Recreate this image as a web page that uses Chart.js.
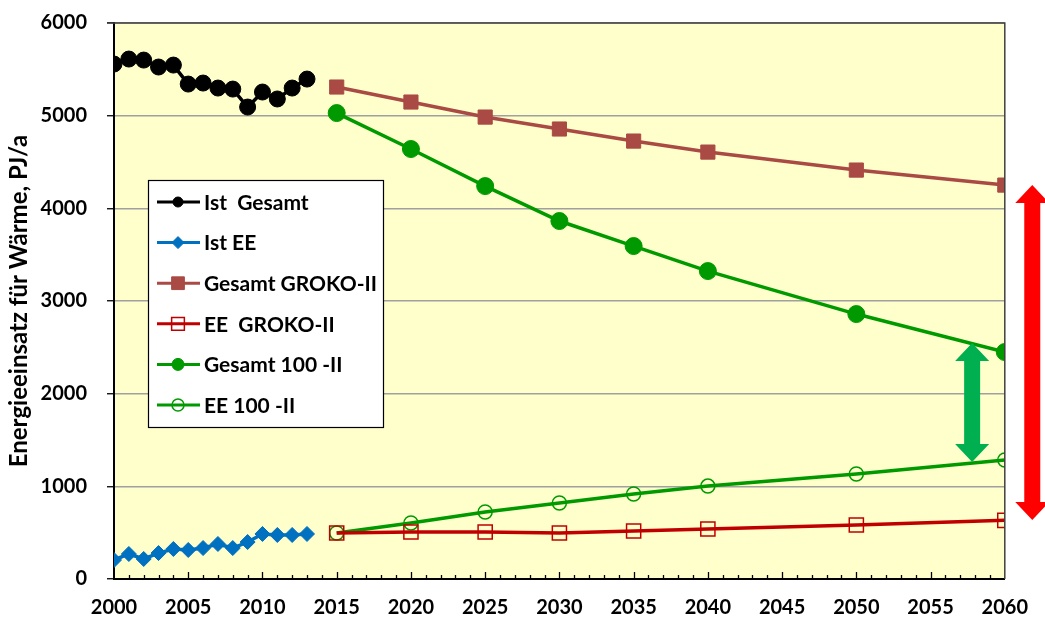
<!DOCTYPE html>
<html>
<head>
<meta charset="utf-8">
<script src="https://cdn.jsdelivr.net/npm/chart.js@4/dist/chart.umd.min.js"></script>
<style>
  html, body { margin: 0; padding: 0; background: #fff; }
  #wrap { width: 1045px; height: 618px; }
</style>
</head>
<body>
<div id="wrap"><canvas id="chart" width="1045" height="618"></canvas></div>
<script>
// Ist-Werte 2000..2013
const istYears   = [2000, 2001, 2002, 2003, 2004, 2005, 2006, 2007, 2008, 2009, 2010, 2011, 2012, 2013];
const istGesamt  = [5557, 5611, 5600, 5525, 5546, 5341, 5352, 5298, 5287, 5093, 5255, 5180, 5298, 5395];
const istEE      = [205, 270, 216, 280, 324, 313, 334, 378, 334, 399, 486, 475, 475, 486];

// Szenarien 2015..2060
const scenYears   = [2015, 2020, 2025, 2030, 2035, 2040, 2050, 2060];
const grokoGesamt = [5309, 5147, 4985, 4856, 4726, 4607, 4413, 4251];
const grokoEE     = [496, 507, 507, 496, 518, 540, 583, 633];
const g100Gesamt  = [5028, 4640, 4240, 3863, 3593, 3323, 2859, 2449];
const g100EE      = [496, 604, 723, 820, 917, 1003, 1133, 1284];

const seriesNames = ["Ist  Gesamt", "Ist EE", "Gesamt GROKO-II", "EE  GROKO-II", "Gesamt 100 -II", "EE 100 -II"];

// Doppelpfeile (Jahr, von, bis)
const greenArrow = { x: 2057.8, from: 2547, to: 1262 };
const redArrow   = { x: 2061.85, from: 4251, to: 637 };

const yTickStep = 1000;
const xLabelStep = 5;

function pts(xs, ys) { return xs.map((x, i) => ({ x: x, y: ys[i] })); }

const GREEN = "#009A00";

Chart.defaults.font.family = "Lato, 'Open Sans', sans-serif";
Chart.defaults.color = "#000";

// Hintergrund + Rahmen + innere Striche + Legende + Pfeile
const decoPlugin = {
  id: "deco",
  beforeDraw(chart) {
    const { ctx, chartArea: a } = chart;
    ctx.save();
    ctx.fillStyle = "#FFFFCC";
    ctx.fillRect(a.left, a.top, a.right - a.left, a.bottom - a.top);
    ctx.restore();
  },
  afterDatasetsDraw(chart) {
    const { ctx, chartArea: a, scales } = chart;
    const xs = scales.x, ys = scales.y;
    ctx.save();
    // Rahmen oben/rechts
    ctx.strokeStyle = "#404040";
    ctx.lineWidth = 1.5;
    ctx.beginPath();
    ctx.moveTo(a.left - 7, a.top);
    ctx.lineTo(a.right, a.top);
    ctx.lineTo(a.right, a.bottom);
    ctx.stroke();

    // kleine Striche innen an der x-Achse
    ctx.strokeStyle = "#000";
    ctx.lineWidth = 1.3;
    for (let yr = 2001; yr < 2060; yr++) {
      const px = Math.round(xs.getPixelForValue(yr)) + 0.5;
      const len = yr % 5 === 0 ? 7 : 4;
      ctx.beginPath();
      ctx.moveTo(px, a.bottom);
      ctx.lineTo(px, a.bottom - len);
      ctx.stroke();
    }

    // Pfeile
    drawDoubleArrow(ctx, xs.getPixelForValue(greenArrow.x), ys.getPixelForValue(greenArrow.from), ys.getPixelForValue(greenArrow.to), "#00B050");
    drawDoubleArrow(ctx, xs.getPixelForValue(redArrow.x), ys.getPixelForValue(redArrow.from), ys.getPixelForValue(redArrow.to), "#FF0000");

    // Legende
    const lx = a.left + 34, ly = a.top + 157, lw = 235, lh = 247;
    ctx.fillStyle = "#fff";
    ctx.fillRect(lx, ly, lw, lh);
    ctx.strokeStyle = "#000";
    ctx.lineWidth = 1.2;
    ctx.strokeRect(lx + 0.5, ly + 0.5, lw, lh);
    ctx.font = "bold 21px Lato, 'Open Sans', sans-serif";
    ctx.textBaseline = "middle";
    chart.data.datasets.forEach((ds, i) => {
      const cy = ly + 22 + i * 40.6;
      ctx.strokeStyle = ds.borderColor;
      ctx.lineWidth = 3;
      ctx.beginPath();
      ctx.moveTo(lx + 9, cy);
      ctx.lineTo(lx + 52, cy);
      ctx.stroke();
      ctx.fillStyle = ds.pointBackgroundColor;
      ctx.strokeStyle = ds.pointBorderColor;
      ctx.lineWidth = ds.pointBorderWidth;
      Chart.helpers.drawPoint(ctx, { pointStyle: ds.pointStyle, radius: ds.legendRadius, borderWidth: ds.pointBorderWidth }, lx + 30, cy);
      ctx.fillStyle = "#000";
      ctx.fillText(ds.label, lx + 56, cy + 1);
    });
    ctx.restore();
  }
};

function drawDoubleArrow(ctx, x, yTop, yBot, color) {
  const head = 18, hw = 17, sw = 8;
  ctx.save();
  ctx.fillStyle = color;
  ctx.beginPath();
  ctx.moveTo(x, yTop);
  ctx.lineTo(x + hw, yTop + head);
  ctx.lineTo(x + sw, yTop + head);
  ctx.lineTo(x + sw, yBot - head);
  ctx.lineTo(x + hw, yBot - head);
  ctx.lineTo(x, yBot);
  ctx.lineTo(x - hw, yBot - head);
  ctx.lineTo(x - sw, yBot - head);
  ctx.lineTo(x - sw, yTop + head);
  ctx.lineTo(x - hw, yTop + head);
  ctx.closePath();
  ctx.fill();
  ctx.restore();
}

const datasets = [
  { label: seriesNames[0], data: pts(istYears, istGesamt), borderColor: "#000", pointBackgroundColor: "#000", pointBorderColor: "#000",
    pointStyle: "circle", pointRadius: 8, pointBorderWidth: 1, legendRadius: 5 },
  { label: seriesNames[1], data: pts(istYears, istEE), borderColor: "#0070C0", pointBackgroundColor: "#0070C0", pointBorderColor: "#0070C0",
    pointStyle: "rectRot", pointRadius: 7.5, pointBorderWidth: 1, legendRadius: 6 },
  { label: seriesNames[2], data: pts(scenYears, grokoGesamt), borderColor: "#AA4A44", pointBackgroundColor: "#AA4A44", pointBorderColor: "#AA4A44",
    pointStyle: "rect", pointRadius: 10, pointBorderWidth: 1, legendRadius: 9 },
  { label: seriesNames[3], data: pts(scenYears, grokoEE), borderColor: "#C00000", pointBackgroundColor: "rgba(0,0,0,0)", pointBorderColor: "#C00000",
    pointStyle: "rect", pointRadius: 10, pointBorderWidth: 1.5, legendRadius: 9 },
  { label: seriesNames[4], data: pts(scenYears, g100Gesamt), borderColor: GREEN, pointBackgroundColor: GREEN, pointBorderColor: GREEN,
    pointStyle: "circle", pointRadius: 8.5, pointBorderWidth: 1, legendRadius: 6 },
  { label: seriesNames[5], data: pts(scenYears, g100EE), borderColor: GREEN, pointBackgroundColor: "rgba(0,0,0,0)", pointBorderColor: GREEN,
    pointStyle: "circle", pointRadius: 7, pointBorderWidth: 1.5, legendRadius: 6 }
].map(ds => Object.assign({ borderWidth: 3.5, showLine: true, tension: 0, fill: false }, ds));

new Chart(document.getElementById("chart"), {
  type: "scatter",
  data: { datasets },
  options: {
    responsive: false,
    animation: false,
    layout: { padding: { left: 0, right: 38, top: 23, bottom: 0 } },
    plugins: { legend: { display: false }, tooltip: { enabled: false } },
    scales: {
      x: {
        type: "linear",
        min: 2000, max: 2060,
        afterFit(s) { s.height = 39; },
        grid: { display: false, drawTicks: false },
        border: { color: "#000", width: 2 },
        ticks: {
          stepSize: xLabelStep,
          padding: 17,
          font: { size: 20, weight: "bold" },
          color: "#000",
          maxRotation: 0,
          callback: v => String(v)
        }
      },
      y: {
        min: 0, max: 6000,
        afterFit(s) { s.width = 114; s.paddingTop = 0; s.paddingBottom = 0; },
        grid: { color: "#A0A0A0", lineWidth: 1.5, tickColor: "#000", tickLength: 7, tickWidth: 1.3 },
        border: { color: "#000", width: 2 },
        ticks: {
          stepSize: yTickStep,
          padding: 20,
          font: { size: 20, weight: "bold" },
          color: "#000",
          callback: v => String(v)
        },
        title: {
          display: true,
          text: "Energieeinsatz für Wärme, PJ/a",
          font: { size: 24, weight: "bold" },
          color: "#000",
          padding: { top: 5, bottom: 0 }
        }
      }
    }
  },
  plugins: [decoPlugin]
});
</script>
</body>
</html>
